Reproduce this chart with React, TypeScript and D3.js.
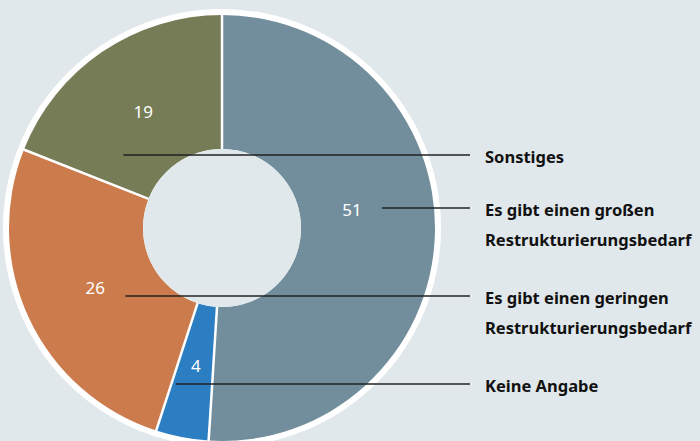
import { useEffect, useRef } from "react";
import * as d3 from "d3";

const categories = [
  "Es gibt einen großen Restrukturierungsbedarf",
  "Keine Angabe",
  "Es gibt einen geringen Restrukturierungsbedarf",
  "Sonstiges",
];
const values = [51, 4, 26, 19];
const colors = ["#728e9c", "#2b7ec1", "#cc7c4c", "#767c56"];
// legend rows from top to bottom, with manual line breaks
const legendOrder = [3, 0, 2, 1];
const legendLines = [
  ["Es gibt einen großen", "Restrukturierungsbedarf"],
  ["Keine Angabe"],
  ["Es gibt einen geringen", "Restrukturierungsbedarf"],
  ["Sonstiges"],
];

function App() {
  const ref = useRef<SVGSVGElement>(null);

  useEffect(() => {
    const w = 700;
    const h = 441;
    const cx = 222;
    const cy = 228;
    const rOuter = 213;
    const rInner = 79;

    const svg = d3.select(ref.current);
    svg.selectAll("*").remove();
    svg.attr("width", w).attr("height", h).style("display", "block");

    svg.append("rect").attr("width", w).attr("height", h).attr("fill", "#e1e8eb");

    const g = svg.append("g").attr("transform", `translate(${cx},${cy})`);

    g.append("circle").attr("r", rOuter + 6).attr("fill", "#fff");

    const pie = d3.pie<number>().sort(null).value((d) => d);
    const arcs = pie(values);
    const arc = d3.arc<d3.PieArcDatum<number>>().innerRadius(rInner).outerRadius(rOuter);

    g.selectAll("path.slice")
      .data(arcs)
      .join("path")
      .attr("class", "slice")
      .attr("d", arc)
      .attr("fill", (_, i) => colors[i]);

    // white separators between slices
    g.selectAll("line.sep")
      .data(arcs)
      .join("line")
      .attr("class", "sep")
      .attr("x1", (d) => rInner * Math.sin(d.startAngle))
      .attr("y1", (d) => -rInner * Math.cos(d.startAngle))
      .attr("x2", (d) => (rOuter + 1) * Math.sin(d.startAngle))
      .attr("y2", (d) => -(rOuter + 1) * Math.cos(d.startAngle))
      .attr("stroke", "#fff")
      .attr("stroke-width", 2.5);

    g.append("circle").attr("r", rInner).attr("fill", "#e1e8eb");

    // legend rows
    const rowY: number[] = [];
    let y = 155;
    legendOrder.forEach((idx) => {
      rowY[idx] = y;
      y += 53 + 35 * (legendLines[idx].length - 1);
    });

    const labelArc = d3.arc<d3.PieArcDatum<number>>().innerRadius(140).outerRadius(140);
    const lineEndX = 470;

    arcs.forEach((d, i) => {
      let [lx, ly] = labelArc.centroid(d);
      lx += cx;
      ly += cy;
      const ry = rowY[i];
      let startX: number;
      if (ry < ly) {
        // row above the centroid: move the label onto the row
        ly = ry + 2;
        lx -= 10;
        startX = lx + 30;
      } else if (ry - ly < 12) {
        // row just under the label: line starts right of it
        startX = lx + 30;
      } else {
        startX = lx - 20;
      }

      svg.append("text")
        .attr("x", lx)
        .attr("y", ly + 6)
        .attr("text-anchor", "middle")
        .attr("fill", "#fff")
        .attr("font-family", "Noto Sans, sans-serif")
        .attr("font-size", 17)
        .text(values[i]);

      svg.append("line")
        .attr("x1", startX)
        .attr("x2", lineEndX)
        .attr("y1", ry)
        .attr("y2", ry)
        .attr("stroke", "#222")
        .attr("stroke-width", 1.4);

      const t = svg.append("text")
        .attr("x", 485)
        .attr("y", ry + 8)
        .attr("fill", "#111")
        .attr("font-family", "Noto Sans, sans-serif")
        .attr("font-weight", "bold")
        .attr("font-size", 16.5);
      legendLines[i].forEach((ln, k) => {
        t.append("tspan").attr("x", 485).attr("dy", k === 0 ? 0 : 30).text(ln);
      });
    });

    svg.append("title").text(categories.join(", "));
  }, []);

  return <svg ref={ref} style={{ position: "absolute", left: 0, top: 0 }} />;
}

export default App;
